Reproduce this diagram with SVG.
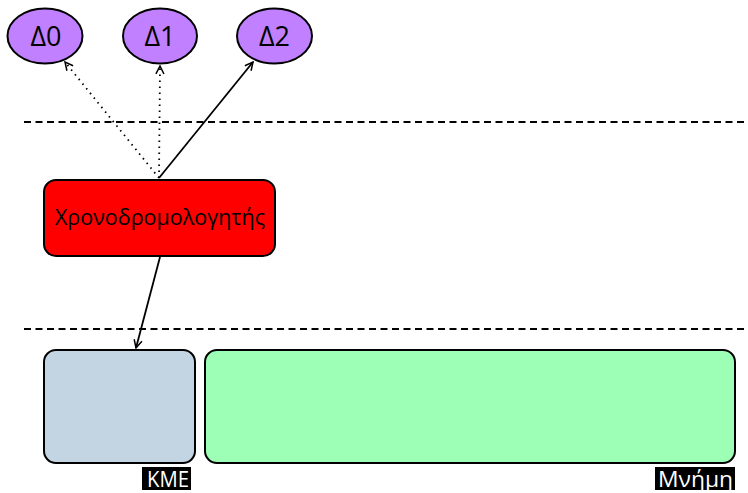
<svg xmlns="http://www.w3.org/2000/svg" width="748" height="493" viewBox="0 0 748 493">
<style>
.node{stroke:#000;stroke-width:2}
.t{font-family:"Open Sans","DejaVu Sans",sans-serif;fill:#000;text-anchor:middle}
.sep{stroke:#000;stroke-width:2;stroke-dasharray:7 4.5;fill:none}
.c{stroke:#000;stroke-width:1.8;fill:none}
.dot{stroke-dasharray:1.5 4.5}
.lbl{font-family:"Open Sans","DejaVu Sans",sans-serif;fill:#fff;font-size:21px}
</style>
<defs>
<marker id="ah" viewBox="0 0 10 10" refX="9" refY="5" markerWidth="10" markerHeight="10" markerUnits="userSpaceOnUse" orient="auto">
<path d="M1,1 L9,5 L1,9" fill="none" stroke="#000" stroke-width="1.5"/>
</marker>
</defs>
<rect width="748" height="493" fill="#fff"/>
<line class="sep" x1="24" y1="122" x2="748" y2="122"/>
<line class="sep" x1="24" y1="329" x2="748" y2="329"/>
<g id="connectors">
<line class="c dot" x1="159" y1="178" x2="65" y2="62" marker-end="url(#ah)"/>
<line class="c dot" x1="159" y1="178" x2="160" y2="66" marker-end="url(#ah)"/>
<line class="c" x1="159" y1="178" x2="253" y2="62" marker-end="url(#ah)"/>
<line class="c" x1="160" y1="257" x2="136" y2="348" marker-end="url(#ah)"/>
</g>
<g id="d0"><ellipse class="node" cx="45" cy="36" rx="37.5" ry="27.5" fill="#c080ff"/><text class="t" x="46" y="46" font-size="27">Δ0</text></g>
<g id="d1"><ellipse class="node" cx="160" cy="36" rx="37" ry="27.5" fill="#c080ff"/><text class="t" x="160" y="46" font-size="27">Δ1</text></g>
<g id="d2"><ellipse class="node" cx="274.5" cy="36" rx="37.5" ry="27.5" fill="#c080ff"/><text class="t" x="274.5" y="46" font-size="27">Δ2</text></g>
<g id="scheduler"><rect class="node" x="44" y="180" width="231" height="76" rx="12" fill="#ff0000"/><text class="t" x="160" y="225" font-size="21.5">Χρονοδρομολογητής</text></g>
<g id="cpu"><rect class="node" x="44" y="350" width="151" height="113" rx="12" fill="#c3d5e3"/>
<rect x="142" y="467" width="49" height="23" fill="#000"/><text class="lbl" x="147" y="487" textLength="42" lengthAdjust="spacingAndGlyphs">KME</text></g>
<g id="memory"><rect class="node" x="205" y="350" width="530" height="113" rx="12" fill="#9cffb5"/>
<rect x="655" y="467" width="80" height="23" fill="#000"/><text class="lbl" x="658" y="487" textLength="75" lengthAdjust="spacingAndGlyphs">Μνήμη</text></g>
</svg>
